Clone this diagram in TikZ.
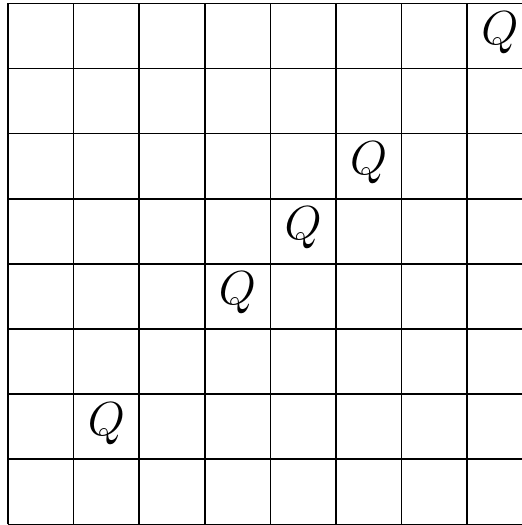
\documentclass[tikz,border=0pt]{standalone}
\usetikzlibrary{positioning}
\tikzset{
  gridline/.style={line width=0.7pt,draw=black},
  queen/.style={inner sep=0pt,font=\fontsize{20}{24}\selectfont},
}
\begin{document}
\begin{tikzpicture}[x=1cm,y=0.993cm]
        \useasboundingbox (-0.122cm,-0.01cm) rectangle (7.838cm,7.996cm);
        \clip (-0.122cm,-0.01cm) rectangle (7.838cm,7.996cm);
        % board
        \foreach \i in {0,...,8}{
          \draw[gridline] (\i,0) -- (\i,8);
          \draw[gridline] (0,\i) -- (8,\i);
        }
        % queens: column/row counted from the top left
        \foreach \c/\r in {8/1,6/3,5/4,4/5,2/7}{
          \node[queen] (q\c\r) at (\c-0.5,8.55-\r) {$Q$};
        }
      \end{tikzpicture}
\end{document}
